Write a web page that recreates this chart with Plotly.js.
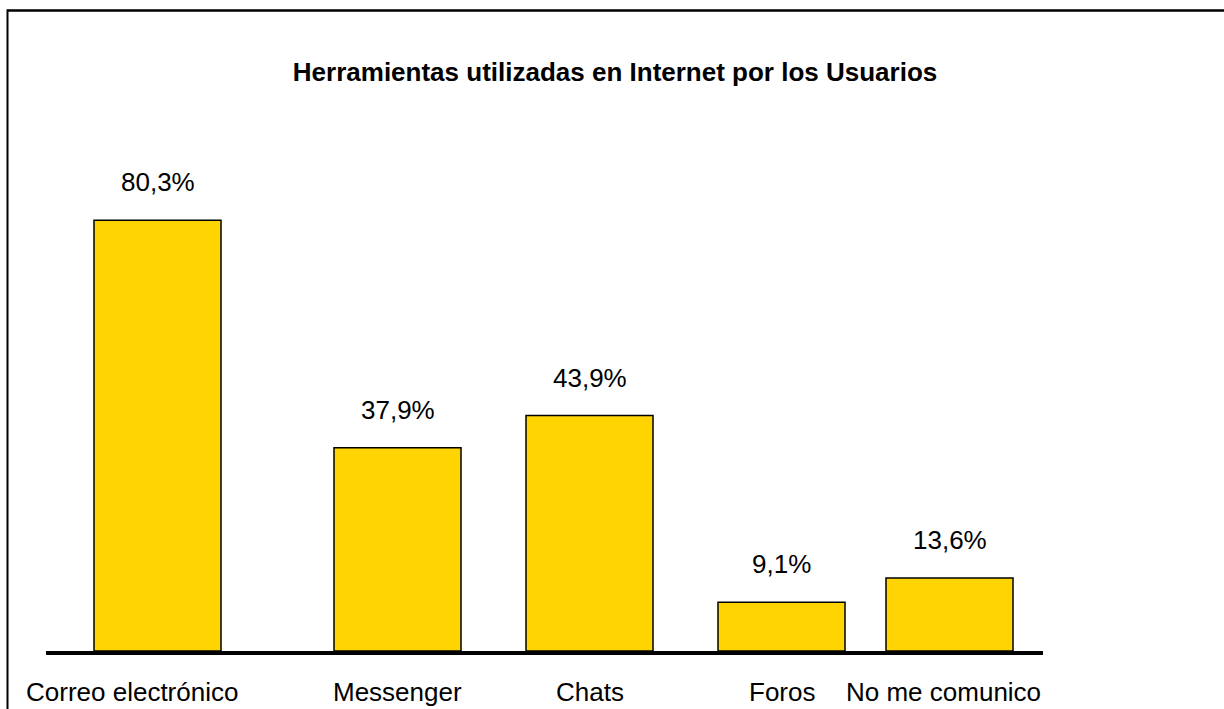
<!DOCTYPE html>
<html>
<head>
<meta charset="utf-8">
<script src="https://cdn.plot.ly/plotly-3.0.1.min.js"></script>
<style>
  html, body { margin: 0; padding: 0; background: #fff; }
  #chart { width: 1224px; height: 709px; }
</style>
</head>
<body>
<div id="chart"></div>
<script>
// ---- data ----
var categories = ["Correo electrónico", "Messenger", "Chats", "Foros", "No me comunico"];
var values = [80.3, 37.9, 43.9, 9.1, 13.6];
var valueLabels = ["80,3%", "37,9%", "43,9%", "9,1%", "13,6%"];

// ---- layout constants (horizontal placement of the bars, in axis units = px) ----
var barCenters = [111.5, 351.5, 543.5, 735.5, 903.5];
var labelShift = [-26, 0, 0, 0, -6];

var FONT = '"Liberation Sans", Arial, sans-serif';

var trace = {
  type: 'bar',
  x: barCenters,
  y: values,
  width: 127,
  marker: { color: '#FFD400', line: { color: '#000000', width: 1.5 } },
  hoverinfo: 'skip'
};

var annotations = [];
for (var i = 0; i < categories.length; i++) {
  annotations.push({
    x: barCenters[i], y: values[i], xref: 'x', yref: 'y',
    text: valueLabels[i], showarrow: false,
    xanchor: 'center', yanchor: 'bottom', yshift: 21,
    font: { family: FONT, size: 26, color: '#000' }
  });
  annotations.push({
    x: barCenters[i], y: 0, xref: 'x', yref: 'y',
    text: categories[i], showarrow: false,
    xanchor: 'center', yanchor: 'top', yshift: -24, xshift: labelShift[i],
    font: { family: FONT, size: 26, color: '#000' }
  });
}

var layout = {
  width: 1224, height: 709,
  margin: { l: 46, r: 181, t: 61, b: 58, pad: 0 },
  paper_bgcolor: '#ffffff', plot_bgcolor: '#ffffff',
  showlegend: false,
  title: {
    text: '<b>Herramientas utilizadas en Internet por los Usuarios</b>',
    font: { family: FONT, size: 26, color: '#000' },
    xref: 'container', yref: 'container',
    x: 0.5025, xanchor: 'center', y: 0.898, yanchor: 'middle'
  },
  xaxis: {
    range: [0, 997], showgrid: false, zeroline: false,
    showticklabels: false, ticks: '',
    showline: true, linecolor: '#000', linewidth: 4
  },
  yaxis: {
    range: [0, 110], showgrid: false, zeroline: false,
    showticklabels: false, ticks: '', showline: false
  },
  annotations: annotations,
  shapes: [
    { type: 'line', xref: 'paper', yref: 'paper',
      x0: -39 / 997, x1: 1.3, y0: 1 + 50.5 / 590, y1: 1 + 50.5 / 590,
      line: { color: '#000', width: 2.5 } },
    { type: 'line', xref: 'paper', yref: 'paper',
      x0: -38.5 / 997, x1: -38.5 / 997, y0: 1 + 51.5 / 590, y1: -0.2,
      line: { color: '#000', width: 2 } }
  ]
};

Plotly.newPlot('chart', [trace], layout, { displayModeBar: false, staticPlot: true });
</script>
</body>
</html>
